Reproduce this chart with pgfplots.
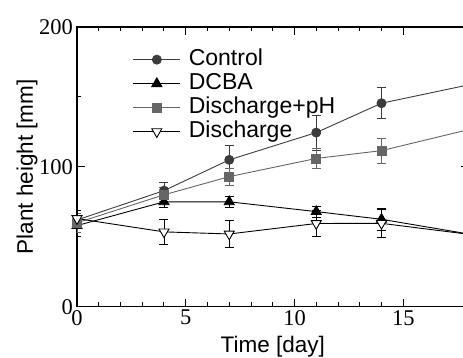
\documentclass[border=0pt]{standalone}
\usepackage{fontspec}
\setmainfont{Liberation Sans}
\newfontfamily\tickfont{Liberation Serif}
\usepackage{pgfplots}
\pgfplotsset{compat=1.18}
\definecolor{ctrl}{HTML}{3C3C3C}
\definecolor{dph}{HTML}{666666}
\begin{document}
\begin{tikzpicture}
\useasboundingbox (-77pt,-51.3pt) rectangle (386pt,306.7pt);
\clip (-77pt,-51.3pt) rectangle (386pt,306.7pt);
\begin{axis}[
  width=391.5pt, height=279.7pt, scale only axis,
  xmin=0, xmax=18, ymin=0, ymax=200,
  xtick={0,5,10,15}, minor x tick num=4,
  ytick={0,100,200}, minor y tick num=1,
  tick align=inside,
  major tick length=8pt, minor tick length=4.5pt,
  axis line style={line width=1.2pt},
  every tick/.style={black, line width=1pt},
  /pgf/number format/assume math mode=true,
  ticklabel style={font=\tickfont\fontsize{22.5}{24}\selectfont},
  yticklabel style={inner sep=4pt},
  label style={font=\fontsize{22.5}{24}\selectfont},
  xlabel={Time [day]},
  ylabel={Plant height [mm]},
  xlabel style={at={(axis description cs:0.5,0)}, anchor=base, yshift=-46pt},
  ylabel style={at={(axis description cs:-0.1124,0.5)}, anchor=base},
  legend style={draw=none, fill=none, inner sep=0pt, outer sep=0pt,
    at={(axis cs:2.57,183.8)}, anchor=north west,
    font=\fontsize{23}{24}\selectfont, column sep=8pt, row sep=4pt,
    nodes={inner sep=0pt, text height=16pt, text depth=4pt}},
  legend cell align=left,
  legend image code/.code={\draw[mark repeat=2,mark phase=2] plot coordinates {(0pt,0pt)(23.5pt,0pt)(47pt,0pt)};},
  error bars/error bar style={line width=0.9pt},
  error bars/error mark options={mark size=4.5pt, line width=0.9pt, rotate=90},
]
\addplot+[ctrl, line width=0.9pt, mark=*, mark size=4.5pt, mark options={fill=ctrl, draw=ctrl},
  error bars/.cd, y dir=both, y explicit]
  coordinates {(0,62) +- (0,5) (4,83) +- (0,6) (7,105) +- (0,10) (11,124.5) +- (0,12.5) (14,145.5) +- (0,11) (18,158.6) +- (0,12)};
\addlegendentry{Control}
\addplot+[black, line width=0.9pt, mark=triangle*, mark size=5.8pt, mark options={fill=black, draw=black},
  error bars/.cd, y dir=both, y explicit]
  coordinates {(0,58) +- (0,7.5) (4,75) +- (0,4) (7,75) +- (0,4) (11,68) +- (0,4) (14,62.5) +- (0,8) (18,52) +- (0,5)};
\addlegendentry{DCBA}
\addplot+[dph, line width=0.9pt, mark=square*, mark size=4.5pt, mark options={fill=dph, draw=dph},
  error bars/.cd, y dir=both, y explicit]
  coordinates {(0,60) +- (0,7) (4,80) +- (0,5) (7,93) +- (0,6) (11,106) +- (0,7) (14,111.6) +- (0,9) (18,126.6) +- (0,26)};
\addlegendentry{Discharge+pH}
\addplot+[black, line width=0.9pt, mark=triangle*, mark size=5.8pt, mark options={fill=white, draw=black, rotate=180},
  error bars/.cd, y dir=both, y explicit]
  coordinates {(0,63) +- (0,6) (4,53.5) +- (0,9) (7,52) +- (0,9.5) (11,59.5) +- (0,9.5) (14,59.6) +- (0,10) (18,51.8) +- (0,5)};
\addlegendentry{Discharge}
\end{axis}
\end{tikzpicture}
\end{document}
